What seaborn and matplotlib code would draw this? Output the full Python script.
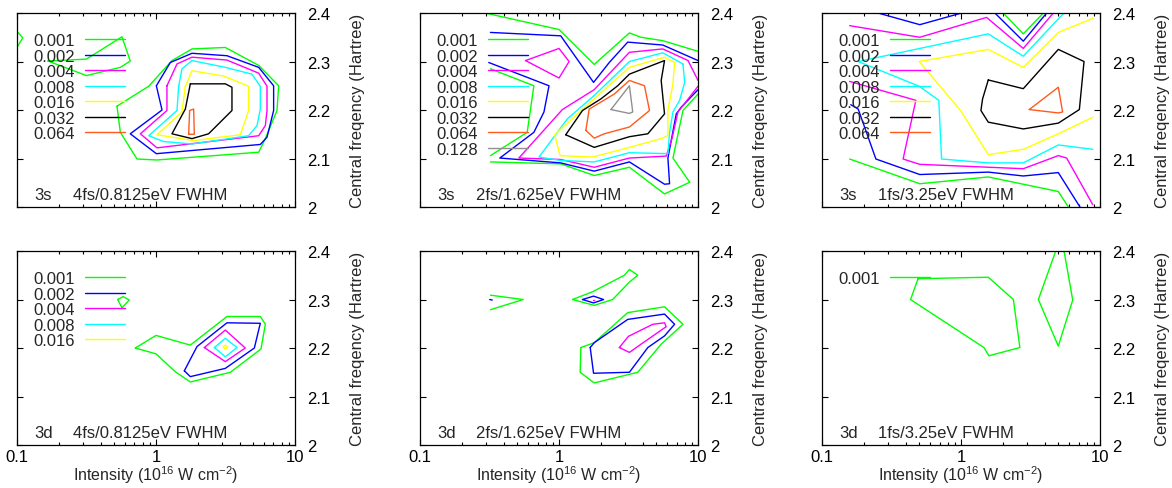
import matplotlib
matplotlib.use("Agg")
import matplotlib.pyplot as plt
from matplotlib.lines import Line2D
from matplotlib.ticker import LogLocator, NullFormatter
import seaborn as sns

# ── Data ──
LEVELS = ["0.001", "0.002", "0.004", "0.008", "0.016", "0.032", "0.064", "0.128"]
STATES = ["3s", "3s", "3s", "3d", "3d", "3d"]
PULSES = ["4fs/0.8125eV FWHM", "2fs/1.625eV FWHM", "1fs/3.25eV FWHM",
          "4fs/0.8125eV FWHM", "2fs/1.625eV FWHM", "1fs/3.25eV FWHM"]
LEGEND_ENTRIES = [7, 8, 7, 5, 0, 1]
X_TICKS = [0.1, 1, 10]
X_TICK_LABELS = ["0.1", "1", "10"]
Y_TICKS = [2.0, 2.1, 2.2, 2.3, 2.4]
Y_TICK_LABELS = ["2", "2.1", "2.2", "2.3", "2.4"]

# contour paths per panel: (level, intensity [1e16 W/cm2], central frequency [Hartree])
S3_4FS = [
    ("0.001", [0.100, 0.110, 0.100], [2.362, 2.349, 2.329]),
    ("0.001", [0.167, 0.316, 0.569, 0.653, 0.554, 0.316, 0.167],
              [2.301, 2.305, 2.351, 2.301, 2.288, 2.271, 2.301]),
    ("0.001", [0.524, 0.886, 1.303, 1.816, 3.153, 5.48, 7.63, 7.42, 6.12, 5.48, 1.017, 0.730, 0.554, 0.524],
              [2.208, 2.249, 2.302, 2.326, 2.329, 2.292, 2.250, 2.199, 2.141, 2.113, 2.097, 2.099, 2.154, 2.208]),
    ("0.002", [1.006, 1.105, 0.653, 1.006, 5.63, 6.29, 7.02, 7.02, 5.48, 3.24, 1.816, 1.268, 1.006],
              [2.250, 2.200, 2.151, 2.110, 2.129, 2.144, 2.199, 2.250, 2.288, 2.312, 2.317, 2.298, 2.250]),
    ("0.004", [1.199, 1.199, 0.772, 1.017, 5.48, 6.12, 6.29, 6.29, 5.48, 3.24, 1.816, 1.416, 1.199],
              [2.250, 2.199, 2.151, 2.122, 2.147, 2.168, 2.199, 2.249, 2.276, 2.303, 2.309, 2.295, 2.250]),
    ("0.008", [1.456, 1.416, 0.886, 1.136, 1.816, 4.64, 5.33, 5.63, 5.63, 4.90, 3.153, 1.816, 1.538, 1.456],
              [2.249, 2.199, 2.147, 2.135, 2.130, 2.147, 2.168, 2.202, 2.249, 2.274, 2.288, 2.302, 2.285, 2.249]),
    ("0.016", [1.626, 1.538, 1.017, 1.866, 4.04, 4.64, 4.64, 3.07, 1.816, 1.626],
              [2.249, 2.196, 2.149, 2.137, 2.149, 2.199, 2.249, 2.270, 2.281, 2.249]),
    ("0.032", [1.766, 3.153, 3.52, 3.52, 2.39, 1.816, 1.303, 1.626, 1.766],
              [2.254, 2.254, 2.247, 2.199, 2.151, 2.141, 2.151, 2.202, 2.254]),
    ("0.064", [1.718, 1.746, 1.866, 1.887, 1.718],
              [2.150, 2.199, 2.202, 2.150, 2.150]),
]

S3_2FS = [
    ("0.001", [0.295, 1.0, 1.791, 3.208, 3.894, 5.58, 10.0],
              [2.400, 2.366, 2.294, 2.359, 2.350, 2.343, 2.321]),
    ("0.001", [0.321, 0.659, 0.590, 0.321], [2.285, 2.250, 2.154, 2.106]),
    ("0.001", [0.321, 1.028, 1.791, 3.208, 5.74, 8.71, 6.60, 7.79, 10.0],
              [2.093, 2.089, 2.065, 2.082, 2.027, 2.051, 2.101, 2.199, 2.233]),
    ("0.002", [0.321, 1.028, 1.771, 2.298, 3.119, 5.58, 10.0],
              [2.360, 2.353, 2.257, 2.298, 2.340, 2.334, 2.302]),
    ("0.002", [0.312, 0.847, 0.779, 0.659, 0.375, 1.028, 1.791, 3.208, 5.74, 6.24, 6.07, 6.97, 7.58, 10.0],
              [2.298, 2.250, 2.196, 2.154, 2.101, 2.091, 2.074, 2.093, 2.047, 2.048, 2.101, 2.192, 2.206, 2.242]),
    ("0.004", [0.574, 1.0, 1.181, 1.0, 0.574], [2.302, 2.327, 2.300, 2.266, 2.302]),
    ("0.004", [10.0, 7.17, 6.49, 5.90, 3.208, 1.791, 1.028, 0.514, 1.057, 1.791, 3.208, 5.58, 8.47, 10.0],
              [2.249, 2.196, 2.141, 2.105, 2.101, 2.082, 2.098, 2.101, 2.201, 2.242, 2.319, 2.326, 2.302, 2.261]),
    ("0.008", [7.79, 8.01, 7.37, 6.60, 6.24, 6.07, 3.208, 1.791, 1.028, 0.717, 1.149, 1.791, 3.208, 5.58, 7.79],
              [2.295, 2.257, 2.220, 2.196, 2.154, 2.110, 2.112, 2.093, 2.096, 2.103, 2.182, 2.230, 2.300, 2.318, 2.295]),
    ("0.016", [0.930, 1.791, 3.208, 5.74, 6.78, 6.60, 6.07, 6.07, 5.58, 3.208, 1.741, 1.017, 0.930],
              [2.149, 2.223, 2.288, 2.309, 2.298, 2.254, 2.199, 2.148, 2.142, 2.123, 2.103, 2.106, 2.149]),
    ("0.032", [1.117, 1.475, 2.001, 2.641, 3.208, 5.74, 5.43, 5.74, 4.352, 3.208, 1.791, 1.117],
              [2.149, 2.199, 2.223, 2.250, 2.274, 2.302, 2.261, 2.192, 2.151, 2.145, 2.123, 2.149]),
    ("0.064", [1.559, 1.648, 2.498, 3.208, 4.117, 4.475, 3.208, 2.115, 1.791, 1.559],
              [2.158, 2.202, 2.233, 2.261, 2.250, 2.199, 2.165, 2.151, 2.142, 2.158]),
    ("0.128", [2.363, 3.208, 3.390, 3.208, 2.363], [2.201, 2.250, 2.196, 2.193, 2.201]),
]

S3_1FS = [
    ("0.001", [2.013, 2.804, 3.906], [2.400, 2.357, 2.400]),
    ("0.001", [0.158, 0.505, 1.570, 5.01, 5.92], [2.099, 2.048, 2.062, 2.032, 2.000]),
    ("0.002", [0.253, 0.505, 1.008], [2.400, 2.376, 2.400]),
    ("0.002", [1.753, 2.804, 4.128], [2.400, 2.342, 2.400]),
    ("0.002", [0.161, 0.182, 0.244, 0.505, 1.570, 2.804, 5.01, 7.17],
              [2.211, 2.202, 2.099, 2.067, 2.072, 2.064, 2.071, 2.000]),
    ("0.004", [0.158, 0.505, 1.527, 2.804, 4.611], [2.374, 2.350, 2.391, 2.327, 2.400]),
    ("0.004", [0.158, 0.473, 0.383, 0.505, 2.804, 5.01, 5.75, 8.86],
              [2.259, 2.220, 2.099, 2.088, 2.079, 2.106, 2.101, 2.005]),
    ("0.008", [5.51, 5.01, 2.804, 1.570, 0.182, 0.500, 0.692, 0.724, 1.570, 2.804, 5.01, 8.86],
              [2.400, 2.388, 2.311, 2.357, 2.300, 2.249, 2.220, 2.099, 2.091, 2.091, 2.128, 2.119]),
    ("0.016", [8.86, 5.01, 2.804, 1.570, 0.500, 0.992, 1.570, 2.804, 5.01, 8.86],
              [2.389, 2.360, 2.288, 2.325, 2.300, 2.199, 2.108, 2.119, 2.151, 2.185]),
    ("0.032", [1.570, 2.804, 5.01, 7.67, 7.10, 5.01, 2.804, 1.570, 1.390, 1.429, 1.570],
              [2.262, 2.244, 2.325, 2.300, 2.201, 2.173, 2.161, 2.175, 2.199, 2.223, 2.262]),
    ("0.064", [3.097, 5.01, 5.38, 5.01, 3.097], [2.201, 2.247, 2.196, 2.194, 2.201]),
]

D3_4FS = [
    ("0.001", [0.530, 0.579, 0.643, 0.569, 0.530], [2.300, 2.306, 2.299, 2.283, 2.300]),
    ("0.001", [0.710, 1.0, 1.766, 3.24, 5.63, 6.12, 5.69, 3.43, 1.766, 1.378, 1.0, 0.710],
              [2.200, 2.226, 2.206, 2.265, 2.265, 2.249, 2.198, 2.150, 2.130, 2.151, 2.188, 2.200]),
    ("0.002", [1.599, 1.972, 3.24, 5.63, 5.10, 3.153, 1.766, 1.599],
              [2.153, 2.203, 2.252, 2.251, 2.200, 2.158, 2.141, 2.153]),
    ("0.004", [2.227, 3.153, 4.39, 3.153, 2.227], [2.201, 2.237, 2.200, 2.172, 2.201]),
    ("0.008", [2.63, 3.153, 3.83, 3.153, 2.63], [2.201, 2.220, 2.201, 2.182, 2.201]),
    ("0.016", [3.05, 3.153, 3.28, 3.153, 3.05], [2.202, 2.206, 2.202, 2.198, 2.202]),
]

D3_2FS = [
    ("0.001", [0.321, 0.552, 0.321], [2.309, 2.300, 2.279]),
    ("0.001", [1.249, 1.741, 2.95, 3.208, 3.685, 3.208, 2.43, 1.791, 1.249],
              [2.300, 2.316, 2.350, 2.362, 2.350, 2.336, 2.300, 2.288, 2.300]),
    ("0.001", [1.435, 1.791, 3.119, 5.74, 7.79, 5.43, 3.685, 1.791, 1.419, 1.435],
              [2.201, 2.211, 2.273, 2.285, 2.249, 2.208, 2.150, 2.128, 2.150, 2.201]),
    ("0.002", [0.317, 0.331], [2.300, 2.299]),
    ("0.002", [1.475, 1.771, 2.092, 1.771, 1.475], [2.300, 2.307, 2.300, 2.293, 2.300]),
    ("0.002", [1.676, 1.791, 3.119, 5.74, 6.78, 5.74, 4.352, 3.208, 1.771, 1.676],
              [2.201, 2.211, 2.259, 2.270, 2.249, 2.225, 2.201, 2.150, 2.148, 2.201]),
    ("0.004", [1.75, 1.79], [2.300, 2.300]),
    ("0.004", [2.715, 3.153, 4.73, 5.74, 5.90, 3.894, 3.208, 2.715],
              [2.201, 2.224, 2.249, 2.252, 2.244, 2.208, 2.191, 2.201]),
]

D3_1FS = [
    ("0.001", [0.491, 1.570, 2.38, 2.65, 1.587, 1.461, 0.433, 0.491],
              [2.343, 2.346, 2.300, 2.201, 2.184, 2.201, 2.300, 2.343]),
    ("0.001", [4.80, 3.60, 5.01, 6.36, 5.51], [2.400, 2.300, 2.204, 2.299, 2.400]),
]

PANELS = [S3_4FS, S3_2FS, S3_1FS, D3_4FS, D3_2FS, D3_1FS]

# ── Style ──
LEVEL_COLORS = {
    "0.001": "#00ff00", "0.002": "#0000ff", "0.004": "#ff00ff", "0.008": "#00ffff",
    "0.016": "#ffff00", "0.032": "#000000", "0.064": "#ff5a1e", "0.128": "#909090",
}

sns.set_theme(style="white")
plt.rcParams["font.family"] = ["Liberation Sans", "DejaVu Sans"]
plt.rcParams["mathtext.fontset"] = "custom"
plt.rcParams["mathtext.rm"] = "Liberation Sans"
plt.rcParams["mathtext.it"] = "Liberation Sans:italic"

FS = 12
fig = plt.figure(figsize=(11.72, 4.89), dpi=100)
col_left = [0.0145, 0.3584, 0.7014]
row_bottom = [0.5746, 0.0879]

for i, paths in enumerate(PANELS):
    r, c = divmod(i, 3)
    ax = fig.add_axes([col_left[c], row_bottom[r], 0.2372, 0.3967])
    for level, xs, ys in paths:
        sns.lineplot(x=xs, y=ys, sort=False, estimator=None,
                     color=LEVEL_COLORS[level], lw=1.0, ax=ax)

    ax.set_xscale("log")
    ax.set_xlim(0.1, 10)
    ax.set_ylim(2.0, 2.4)
    ax.set_xticks(X_TICKS)
    ax.set_xticklabels(X_TICK_LABELS if r == 1 else [])
    ax.xaxis.set_minor_locator(LogLocator(base=10, subs=range(2, 10)))
    ax.xaxis.set_minor_formatter(NullFormatter())
    ax.set_yticks(Y_TICKS)
    ax.set_yticklabels(Y_TICK_LABELS)
    ax.tick_params(which="both", direction="in", top=True, bottom=True,
                   left=True, right=True, labelleft=False, labelright=True,
                   colors="black", labelsize=FS)
    ax.tick_params(which="major", length=4, width=0.8)
    ax.tick_params(which="minor", length=2.5, width=0.8)
    ax.tick_params(axis="x", pad=3)
    ax.tick_params(axis="y", pad=9)
    for sp in ax.spines.values():
        sp.set_color("black")
        sp.set_linewidth(0.9)

    ax.yaxis.set_label_position("right")
    ax.set_ylabel("Central freqency (Hartree)", fontsize=FS, labelpad=14)
    if r == 1:
        ax.set_xlabel("Intensity (10$^{16}$ W cm$^{-2}$)", fontsize=11.5, labelpad=-0.5)
    else:
        ax.set_xlabel("")

    ax.text(0.062, 0.062, STATES[i], transform=ax.transAxes, va="center", fontsize=FS)
    ax.text(0.20, 0.062, PULSES[i], transform=ax.transAxes, va="center", fontsize=FS)

    n = LEGEND_ENTRIES[i]
    if n:
        handles = [Line2D([], [], color=LEVEL_COLORS[l], lw=1.0) for l in LEVELS[:n]]
        ax.legend(handles, LEVELS[:n], loc="upper left", bbox_to_anchor=(0.058, 0.897),
                  markerfirst=False, frameon=False, fontsize=FS, handlelength=2.4,
                  handletextpad=0.6, labelspacing=0.03, borderaxespad=0, borderpad=0)

fig.savefig("out.png", dpi=100)
